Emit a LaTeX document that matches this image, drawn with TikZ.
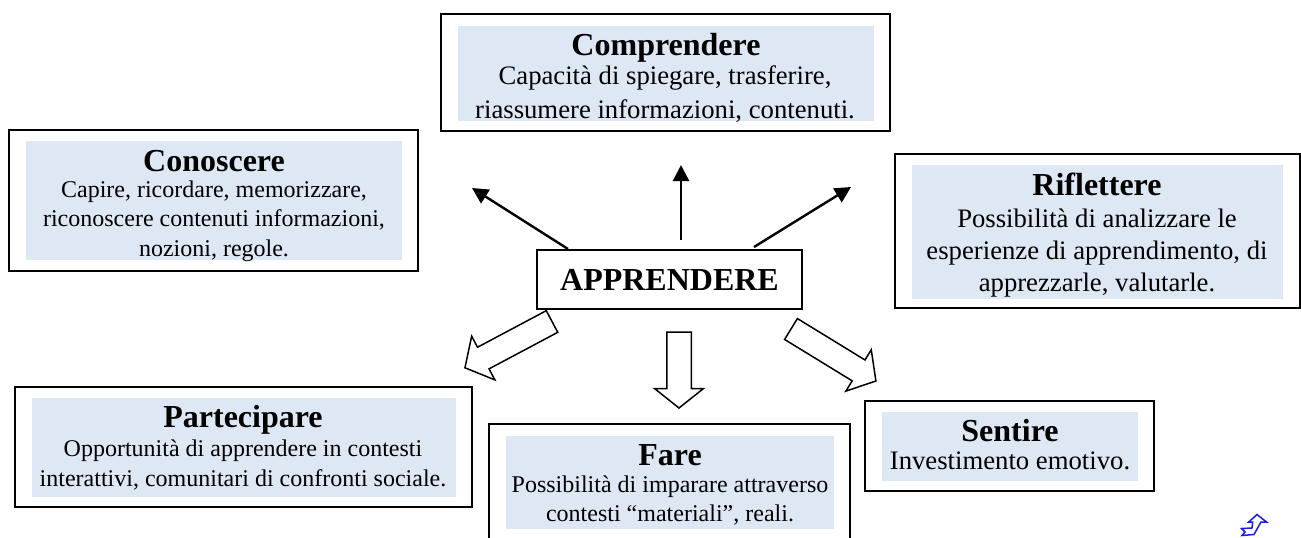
\documentclass[tikz,border=0pt]{standalone}
\usepackage{fontspec}
\setmainfont{Liberation Serif}
\usetikzlibrary{shapes.arrows,arrows.meta}
\definecolor{panel}{HTML}{DEE8F4}
\definecolor{iconblue}{HTML}{1A1AF0}
\tikzset{
  outerbox/.style={draw=black,line width=1.6pt,fill=white,inner sep=0pt,outer sep=0pt},
  panelbox/.style={fill=panel,inner sep=0pt,outer sep=0pt},
  heading/.style={font=\fontsize{32}{32}\selectfont\bfseries,inner sep=0pt,anchor=base},
  bodytext/.style={inner sep=0pt,align=center,anchor=north},
  thin arrow/.style={-{Triangle[length=16pt,width=16pt]},line width=2.4pt},
  hollow/.style={single arrow,draw=black,fill=white,line width=1.5pt,inner sep=0pt,inner ysep=11.5pt,outer sep=0pt,anchor=tail,
    single arrow head indent=0pt},
}
\newcommand{\bx}[5]{%
  \node[outerbox,minimum width=#4pt-#2pt,minimum height=#5pt-#3pt,anchor=north west] (#1) at (#2,#3) {};
}
\newcommand{\pn}[5]{%
  \node[panelbox,minimum width=#4pt-#2pt,minimum height=#5pt-#3pt,anchor=north west] (#1) at (#2,#3) {};
}
\begin{document}
\begin{tikzpicture}[x=1pt,y=-1pt]
\useasboundingbox (0,0) rectangle (1301,538);
% Comprendere
\bx{comprendere}{441}{14}{890}{131}
\pn{comprenderep}{458}{26}{874}{121}
\node[heading] (comprendereh) at (666,55) {Comprendere};
\node[bodytext,font=\fontsize{26.7}{34}\selectfont] (comprendereb) at (665,62) {\rule{0pt}{22pt}Capacità di spiegare, trasferire,\\riassumere informazioni, contenuti.};
% Conoscere
\bx{conoscere}{9}{130}{418}{271}
\pn{conoscerep}{26}{141}{402}{260}
\node[heading] (conosceh) at (214,171) {Conoscere};
\node[bodytext,font=\fontsize{24}{29.5}\selectfont] (conosceb) at (214,176) {\rule{0pt}{21pt}Capire, ricordare, memorizzare,\\riconoscere contenuti informazioni,\\nozioni, regole.};
% Riflettere
\bx{riflettere}{895}{154}{1300}{308}
\pn{rifletterep}{912}{165}{1283}{299}
\node[heading] (rifletteh) at (1097,195) {Riflettere};
\node[bodytext,font=\fontsize{26.7}{32}\selectfont] (riflettb) at (1097,205) {\rule{0pt}{22pt}Possibilità di analizzare le\\esperienze di apprendimento, di\\apprezzarle, valutarle.};
% Apprendere
\node[draw=black,line width=1.6pt,fill=white,minimum width=265pt,minimum height=59pt,inner sep=0pt,outer sep=0pt,font=\fontsize{32}{32}\selectfont\bfseries] (app) at (669.5,279.5) {APPRENDERE};
% Partecipare
\bx{partecipare}{15}{387}{472}{507}
\pn{parteciparep}{32}{398}{456}{497}
\node[heading] (parth) at (243,427) {Partecipare};
\node[bodytext,font=\fontsize{24}{30}\selectfont] (partb) at (243,435) {\rule{0pt}{21pt}Opportunità di apprendere in contesti\\interattivi, comunitari di confronti sociale.};
% Fare
\bx{fare}{489}{424}{850}{545}
\pn{farep}{506}{436}{834}{529}
\node[heading] (fareh) at (670,465) {Fare};
\node[bodytext,font=\fontsize{24}{29}\selectfont] (fareb) at (670,472) {\rule{0pt}{20pt}Possibilità di imparare attraverso\\contesti “materiali”, reali.};
% Sentire
\bx{sentire}{865}{401}{1154}{491}
\pn{sentirep}{882}{412}{1138}{481}
\node[heading] (sentireh) at (1010,441) {Sentire};
\node[bodytext,font=\fontsize{26.7}{30}\selectfont] (sentireb) at (1010,448) {\rule{0pt}{21pt}Investimento emotivo.};
% thin arrows
\coordinate (al) at (472,188);
\coordinate (at) at (681,165);
\coordinate (ar) at (851,187);
\coordinate (sl) at (568,249);
\coordinate (st) at (681,240);
\coordinate (sr) at (754,247);
\draw[thin arrow] (sl) -- (al);
\draw[thin arrow] (st) -- (at);
\draw[thin arrow] (sr) -- (ar);
% hollow arrows
\node[hollow,minimum height=98.6pt,single arrow head extend=12.5pt,single arrow tip angle=100,rotate=208] (hl) at (552,321.5) {};
\node[hollow,minimum height=76pt,single arrow head extend=12pt,single arrow tip angle=103,rotate=270] (hm) at (679,332) {};
\node[hollow,minimum height=99.6pt,single arrow head extend=12pt,single arrow tip angle=100,rotate=-31.5] (hr) at (791,329) {};
% icon
\draw[iconblue,line width=1.5pt,fill=white,line join=miter] (1257,514.5)--(1266.5,522)--(1261,522)--(1254,534.5)--(1242,535.5)--(1245,532)--(1241.5,528.5)--(1252,528)--(1252.7,522)--(1248.7,522)--cycle;
\end{tikzpicture}
\end{document}
